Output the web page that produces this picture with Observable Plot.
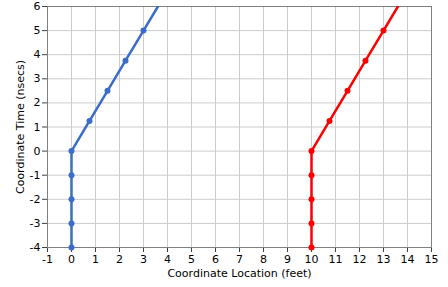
<!DOCTYPE html>
<html><head><meta charset="utf-8">
<script src="https://cdn.jsdelivr.net/npm/d3@7"></script>
<script src="https://cdn.jsdelivr.net/npm/@observablehq/plot@0.6"></script>
<style>
body{margin:0;background:#fff;}
#chart svg{display:block;}
</style></head><body><div id="chart"></div>
<script>
const series = ["blue", "red"];
const blueX = [0, 0, 0, 0, 0, 0.75, 1.5, 2.25, 3, 3.6];
const blueT = [-4, -3, -2, -1, 0, 1.25, 2.5, 3.75, 5, 6];
const redX = [10, 10, 10, 10, 10, 10.75, 11.5, 12.25, 13, 13.6];
const redT = [-4, -3, -2, -1, 0, 1.25, 2.5, 3.75, 5, 6];
const xTicks = d3.range(-1, 16);
const yTicks = d3.range(-4, 7);
const colors = {blue: "#3a6cc9", red: "#ff0000"};

const data = [];
blueX.forEach((x, i) => data.push({s: "blue", x, t: blueT[i], dot: blueT[i] < 6}));
redX.forEach((x, i) => data.push({s: "red", x, t: redT[i], dot: redT[i] < 6}));

const chart = Plot.plot({
  width: 448, height: 287,
  marginLeft: 47, marginRight: 17, marginTop: 6, marginBottom: 40,
  style: {fontFamily: "DejaVu Sans, Tahoma, sans-serif", fontSize: "11px", color: "#000", background: "#fff"},
  x: {domain: [-1, 15], ticks: xTicks, tickFormat: d => String(d), tickSize: 5, tickPadding: 3, label: "Coordinate Location (feet)", labelAnchor: "center", labelArrow: "none", labelOffset: 29},
  y: {domain: [-4, 6], ticks: yTicks, tickFormat: d => String(d), tickSize: 5, tickPadding: 2, label: "Coordinate Time (nsecs)", labelAnchor: "center", labelArrow: "none", labelOffset: 31},
  marks: [
    Plot.gridX(xTicks, {stroke: "#cccccc", strokeOpacity: 1, strokeWidth: 1}),
    Plot.gridY(yTicks, {stroke: "#cccccc", strokeOpacity: 1, strokeWidth: 1}),
    Plot.frame({stroke: "#808080", strokeWidth: 1}),
    Plot.line(data, {x: "x", y: "t", z: "s", stroke: d => colors[d.s], strokeWidth: 2.5, clip: true}),
    Plot.dot(data.filter(d => d.dot), {x: "x", y: "t", fill: d => colors[d.s], r: 3})
  ]
});
chart.querySelectorAll('[aria-label="x-axis tick"], [aria-label="y-axis tick"]').forEach(g => g.setAttribute("stroke", "#404040"));
document.getElementById("chart").appendChild(chart);
</script></body></html>
